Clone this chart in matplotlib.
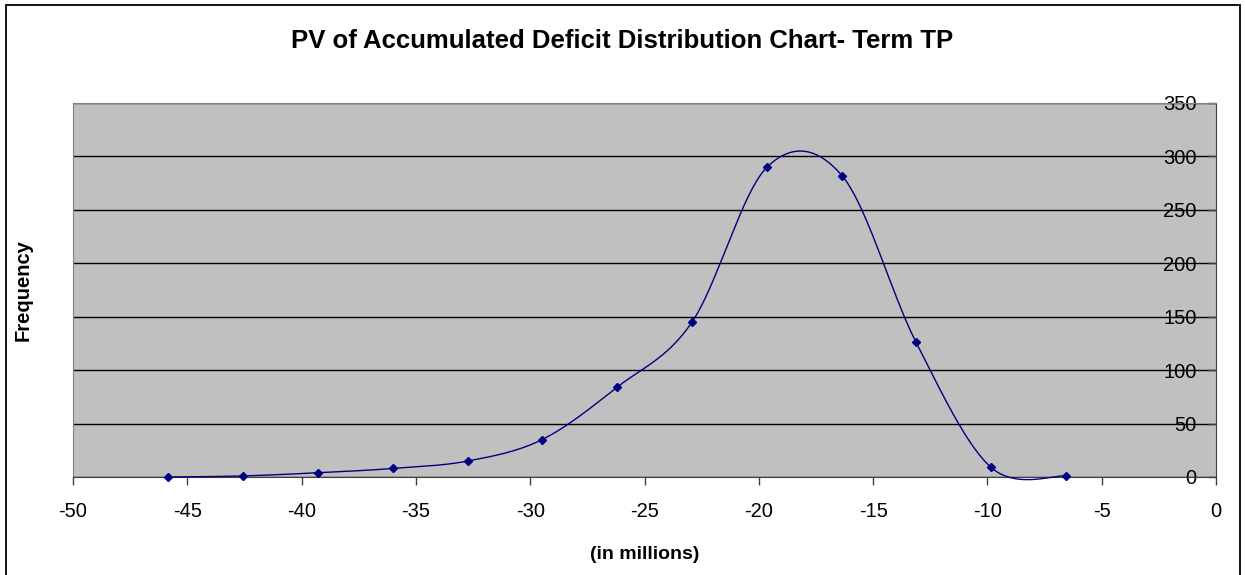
import numpy as np
import matplotlib
matplotlib.use("Agg")
import matplotlib.pyplot as plt
from matplotlib.patches import Rectangle

# bin midpoints (millions) and simulated frequency counts
deficit = [-45.84, -42.56, -39.28, -36.0, -32.72, -29.48, -26.2,
           -22.92, -19.64, -16.36, -13.12, -9.84, -6.56]
frequency = [0, 1, 4, 8, 15, 35, 84, 145, 290, 282, 126, 9, 1]

x_ticks = list(range(-50, 1, 5))
y_ticks = list(range(0, 351, 50))

plt.rcParams["font.family"] = ["Liberation Sans", "DejaVu Sans"]
plt.rcParams["axes.unicode_minus"] = False


def smooth_curve(xs, ys, steps=40):
    """Spreadsheet-style smoothed line: cubic Bezier through each point,
    control points taken from the neighbouring points (Catmull-Rom)."""
    p = np.column_stack([xs, ys]).astype(float)
    p = np.vstack([p[0], p, p[-1]])
    t = np.linspace(0, 1, steps)[:, None]
    out = []
    for i in range(1, len(p) - 2):
        p0, p3 = p[i], p[i + 1]
        c1 = p0 + (p[i + 1] - p[i - 1]) / 6.0
        c2 = p3 - (p[i + 2] - p[i]) / 6.0
        seg = ((1 - t) ** 3) * p0 + 3 * ((1 - t) ** 2) * t * c1 \
            + 3 * (1 - t) * t ** 2 * c2 + t ** 3 * p3
        out.append(seg if i == 1 else seg[1:])
    seg = np.vstack(out)
    return seg[:, 0], seg[:, 1]


fig = plt.figure(figsize=(12.45, 5.75), dpi=100)
# chart frame (runs off the bottom edge)
fig.patches.append(Rectangle((6 / 1245, -0.02), (1240 - 6) / 1245, 1 - 5 / 575 + 0.02,
                             transform=fig.transFigure, fill=False,
                             edgecolor="black", linewidth=1.3))
ax = fig.add_axes([73 / 1245, 1 - 477 / 575, (1216 - 73) / 1245, (477 - 103) / 575])
ax.set_facecolor("#c0c0c0")

sx, sy = smooth_curve(deficit, frequency)
ax.plot(sx, sy, color="#000080", linewidth=1.0, zorder=3, clip_on=False)
ax.plot(deficit, frequency, linestyle="none", marker="D", markersize=4,
        color="#000080", zorder=4, clip_on=False)

ax.set_xlim(-50, 0)
ax.set_ylim(0, 350)
ax.set_xticks(x_ticks)
ax.set_yticks(y_ticks)
ax.yaxis.grid(True, color="black", linewidth=1.0)
ax.set_axisbelow(True)

for side in ("top", "left"):
    ax.spines[side].set_color("#808080")
ax.spines["bottom"].set_color("#404040")
ax.spines["right"].set_color("#404040")

ax.tick_params(axis="x", direction="out", length=6, width=1, color="#404040",
               labelsize=14.5, pad=12)
ax.tick_params(axis="y", left=False, right=True, labelleft=False, labelright=True,
               direction="in", length=6, width=1, color="#404040",
               labelsize=14.5, pad=-14)
for lbl in ax.get_yticklabels():
    lbl.set_horizontalalignment("right")

ax.set_xlabel("(in millions)", fontsize=14, fontweight="bold")
ax.xaxis.set_label_coords(0.5, -0.185)
ax.set_ylabel("Frequency", fontsize=14.5, fontweight="bold")
ax.yaxis.set_label_coords(-0.035, 0.5)
fig.suptitle("PV of Accumulated Deficit Distribution Chart- Term TP",
             fontsize=18.5, fontweight="bold", y=1 - 41 / 575, va="center")

fig.savefig("out.png", dpi=100)
